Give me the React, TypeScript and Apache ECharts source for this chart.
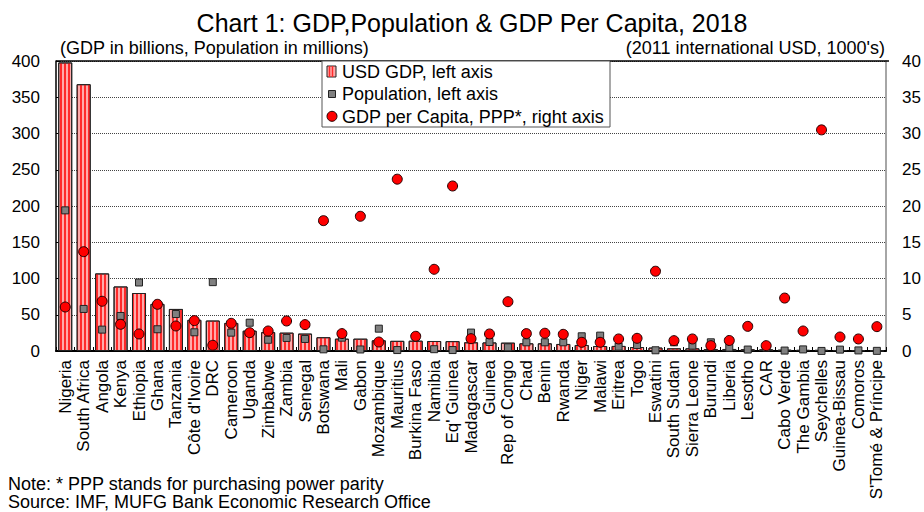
import React, { useEffect, useRef } from "react";
import * as echarts from "echarts";

const categories = [
  "Nigeria", "South Africa", "Angola", "Kenya", "Ethiopia", "Ghana", "Tanzania",
  "Côte d'Ivoire", "DRC", "Cameroon", "Uganda", "Zimbabwe", "Zambia", "Senegal",
  "Botswana", "Mali", "Gabon", "Mozambique", "Mauritius", "Burkina Faso", "Namibia",
  "Eq' Guinea", "Madagascar", "Guinea", "Rep of Congo", "Chad", "Benin", "Rwanda",
  "Niger", "Malawi", "Eritrea", "Togo", "Eswatini", "South Sudan", "Sierra Leone",
  "Burundi", "Liberia", "Lesotho", "CAR", "Cabo Verde", "The Gambia", "Seychelles",
  "Guinea-Bissau", "Comoros", "S'Tomé & Príncipe",
];

// USD GDP, billions (left axis)
const gdpValues = [
  398, 368, 107, 89, 80, 65, 58, 43, 42, 38.7, 28, 26, 25.3, 24,
  19, 17, 17, 14.7, 14, 14.2, 13.8, 13.6, 12, 11.8, 11.5, 10.6, 10.6, 9.7,
  8.3, 6.9, 7, 5.5, 4.7, 3.7, 3.7, 2.8, 2.8, 2.5, 2.3, 1.8, 1.6, 1.6,
  1.4, 1.2, 0.4,
];

// Population, millions (left axis)
const popValues = [
  194, 58, 29.5, 48.3, 94.5, 30, 51, 25.8, 95, 25.3, 39, 15.5, 18, 16.6,
  2.3, 18.4, 2.1, 30.8, 1.3, 20, 2.5, 1.3, 25.4, 12.4, 5.1, 12, 12, 12,
  20.3, 21.2, 6, 8.3, 1, 12, 7.4, 12, 4.7, 2, 4.7, 0.6, 2.2, 0.1,
  1.9, 0.8, 0.2,
];

// GDP per capita, PPP, 2011 intl USD 1000's (right axis)
const gdpPerCapita = [
  6.07, 13.7, 6.86, 3.68, 2.35, 6.44, 3.45, 4.19, 0.79, 3.82, 2.53, 2.76, 4.14, 3.64,
  17.98, 2.4, 18.58, 1.24, 23.7, 2.03, 11.27, 22.76, 1.7, 2.35, 6.8, 2.4, 2.45, 2.3,
  1.2, 1.2, 1.66, 1.75, 11.0, 1.43, 1.66, 0.74, 1.45, 3.4, 0.74, 7.3, 2.76, 30.5,
  1.93, 1.66, 3.36,
];

const leftTicks = [0, 50, 100, 150, 200, 250, 300, 350, 400];
const rightTicks = [0, 5, 10, 15, 20, 25, 30, 35, 40];

const titleText = "Chart 1: GDP,Population & GDP Per Capita, 2018";
const leftUnit = "(GDP in billions, Population in millions)";
const rightUnit = "(2011 international USD, 1000's)";
const legendNames = ["USD GDP, left axis", "Population, left axis", "GDP per Capita, PPP*, right axis"];
const noteText = "Note: * PPP stands for purchasing power parity";
const sourceText = "Source: IMF, MUFG Bank Economic Research Office";

const FONT = "'Liberation Sans', Arial, sans-serif";

export default function App() {
  const ref = useRef<HTMLDivElement>(null);
  useEffect(() => {
    if (!ref.current) return;
    const chart = echarts.init(ref.current, null, { renderer: "svg" });
    const gl = 56, gr = 889, gt = 61, gb = 351;
    const option: any = {
      animation: false,
      backgroundColor: "#fff",
      textStyle: { fontFamily: FONT },
      title: [
        { text: titleText, left: 467, top: 5, textAlign: "center",
          textStyle: { fontFamily: FONT, fontSize: 25, lineHeight: 26, fontWeight: "normal", color: "#000" } },
      ],
      grid: { left: gl, right: 924 - gr, top: gt, bottom: 512 - gb, containLabel: false },
      xAxis: {
        type: "category",
        data: categories,
        boundaryGap: true,
        axisLine: { lineStyle: { color: "#000", width: 2 } },
        axisTick: { show: true, inside: true, length: 4, lineStyle: { color: "#000" } },
        axisLabel: { rotate: 90, fontSize: 17, color: "#000", margin: 9, interval: 0, fontFamily: FONT },
      },
      yAxis: [
        {
          type: "value", min: 0, max: 400, interval: 50,
          axisLine: { show: true, lineStyle: { color: "#000", width: 1.5 } },
          axisTick: { show: true, inside: true, length: 4, lineStyle: { color: "#000" } },
          axisLabel: { fontSize: 17, color: "#000", margin: 16,
            formatter: (v: number) => (leftTicks.includes(v) ? String(v) : "") },
          splitLine: { show: true, lineStyle: { color: "#444", type: [1, 1], width: 1 } },
        },
        {
          type: "value", min: 0, max: 40, interval: 5, position: "right",
          axisLine: { show: true, lineStyle: { color: "#888", width: 1.5 } },
          axisTick: { show: false },
          axisLabel: { fontSize: 17, color: "#000", margin: 16, align: "left",
            formatter: (v: number) => (rightTicks.includes(v) ? String(v) : "") },
          splitLine: { show: false },
        },
      ],
      series: [
        {
          name: legendNames[0], type: "bar", data: gdpValues, yAxisIndex: 0,
          barCategoryGap: "24%",
          itemStyle: {
            color: "#ffaaaa", borderColor: "#222", borderWidth: 1,
            decal: { symbol: "rect", symbolSize: 1, color: "#ff2a2a",
              dashArrayX: [1.5, 1.5], dashArrayY: [4, 0], rotation: 0 },
          },
          z: 2,
        },
        {
          name: legendNames[1], type: "scatter", data: popValues, yAxisIndex: 0,
          symbol: "rect", symbolSize: 7,
          itemStyle: { color: "#808080", borderColor: "#222", borderWidth: 1, opacity: 1 },
          z: 3,
        },
        {
          name: legendNames[2], type: "scatter", data: gdpPerCapita, yAxisIndex: 1,
          symbol: "circle", symbolSize: 10,
          itemStyle: { color: "#ff0000", borderColor: "#200", borderWidth: 1, opacity: 1 },
          z: 4,
        },
      ],
      graphic: [
        { type: "line", shape: { x1: gl, y1: gt, x2: gr, y2: gt }, style: { stroke: "#000", lineWidth: 1.5 }, z: 10 },
        { type: "text", left: 60, top: 39, style: { text: leftUnit, font: `18px ${FONT}`, fill: "#000" } },
        { type: "text", right: 924 - 885, top: 39, style: { text: rightUnit, font: `18px ${FONT}`, fill: "#000" } },
        { type: "text", left: 8, top: 475, style: { text: noteText, font: `18px ${FONT}`, fill: "#000" } },
        { type: "text", left: 8, top: 493, style: { text: sourceText, font: `18px ${FONT}`, fill: "#000" } },
        // legend box
        { type: "rect", shape: { x: 322, y: 61, width: 288, height: 66 },
          style: { fill: "#fff", stroke: "#555", lineWidth: 1 }, z: 20 },
        { type: "rect", shape: { x: 327, y: 66, width: 9, height: 11 },
          style: { fill: "#ffaaaa", stroke: "#222", lineWidth: 1 }, z: 21 },
        { type: "line", shape: { x1: 329.5, y1: 66, x2: 329.5, y2: 77 }, style: { stroke: "#ff2a2a", lineWidth: 1.5 }, z: 22 },
        { type: "line", shape: { x1: 332.5, y1: 66, x2: 332.5, y2: 77 }, style: { stroke: "#ff2a2a", lineWidth: 1.5 }, z: 22 },
        { type: "rect", shape: { x: 328.5, y: 90.5, width: 7, height: 7 },
          style: { fill: "#808080", stroke: "#222", lineWidth: 1 }, z: 21 },
        { type: "circle", shape: { cx: 332, cy: 116.3, r: 5 },
          style: { fill: "#ff0000", stroke: "#200", lineWidth: 1 }, z: 21 },
        { type: "text", x: 342, y: 72, style: { text: legendNames[0], font: `18px ${FONT}`, fill: "#000", textVerticalAlign: "middle" }, z: 21 },
        { type: "text", x: 342, y: 94.3, style: { text: legendNames[1], font: `18px ${FONT}`, fill: "#000", textVerticalAlign: "middle" }, z: 21 },
        { type: "text", x: 342, y: 116.6, style: { text: legendNames[2], font: `18px ${FONT}`, fill: "#000", textVerticalAlign: "middle" }, z: 21 },
      ],
    };
    chart.setOption(option);
    return () => chart.dispose();
  }, []);
  return (
    <div
      ref={ref}
      style={{ position: "absolute", left: 0, top: 0, width: 924, height: 512, background: "#fff" }}
    />
  );
}
